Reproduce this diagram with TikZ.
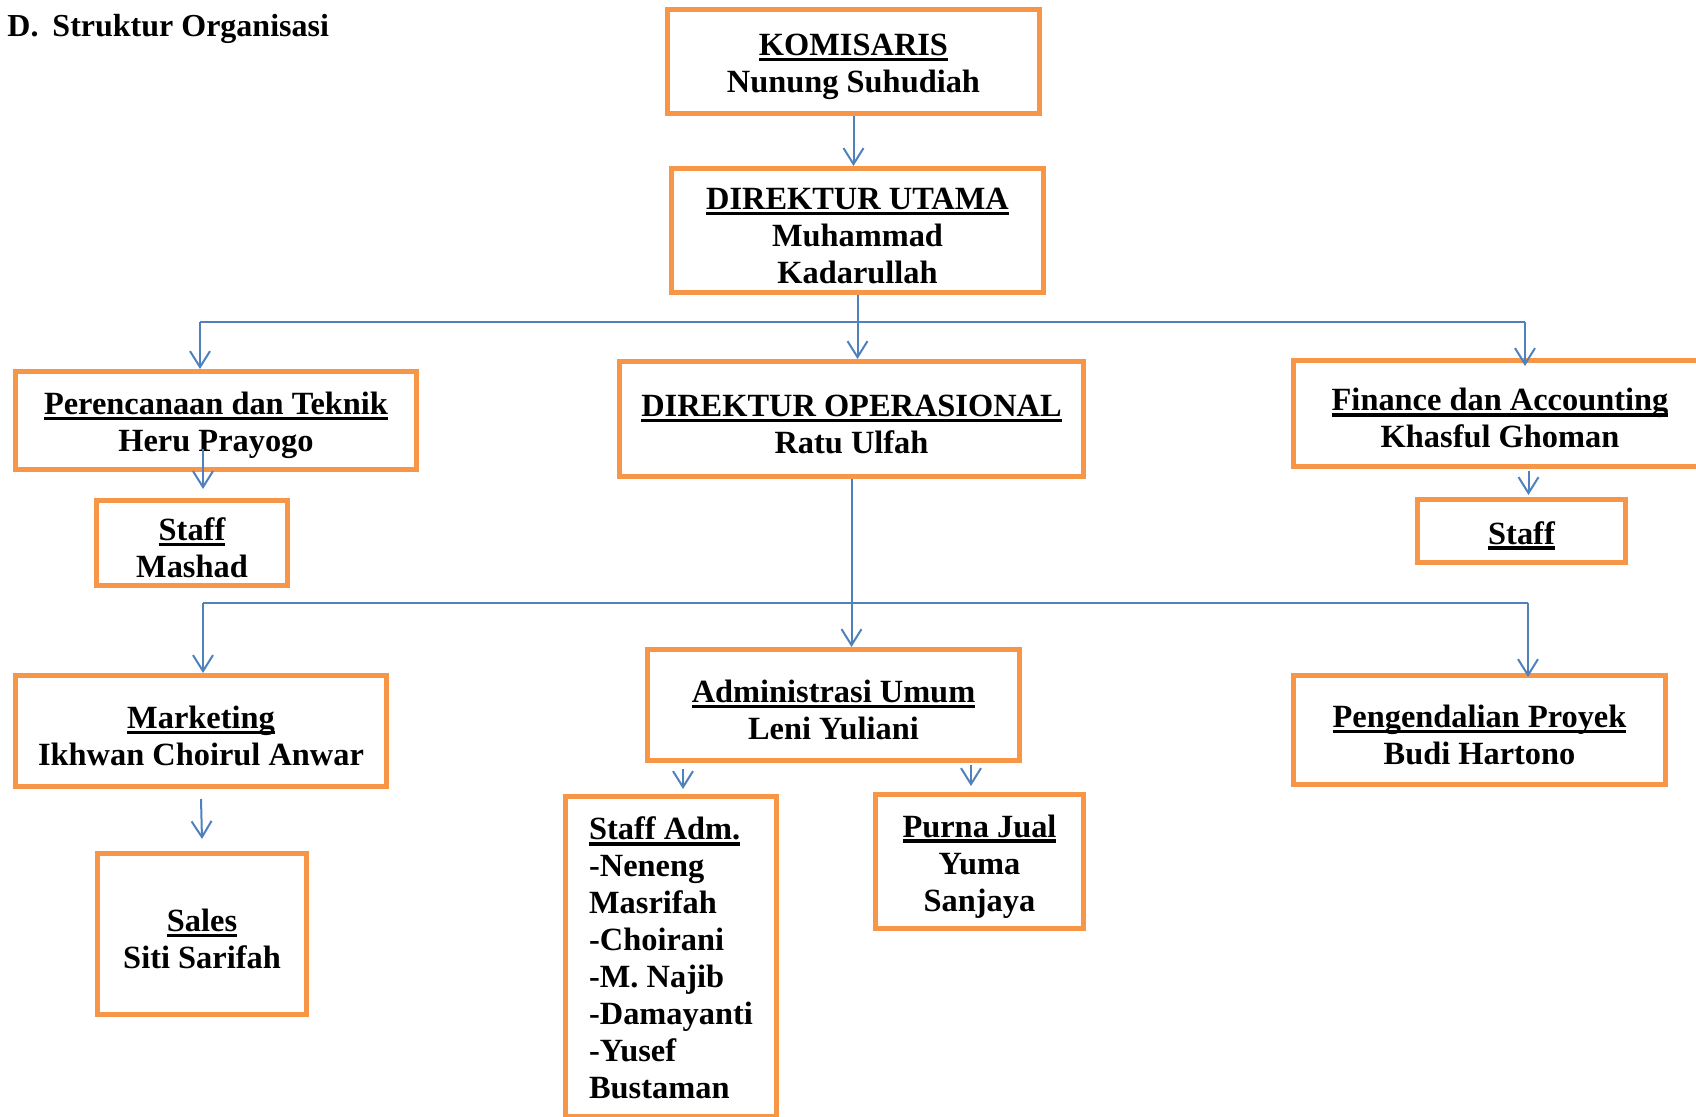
\documentclass[tikz,border=0pt]{standalone}
\usepackage{fontspec}
\setmainfont{Liberation Serif}
\usepackage{xcolor}
\usetikzlibrary{arrows.meta,calc,positioning}
\definecolor{boxorange}{HTML}{F79646}
\definecolor{linkblue}{HTML}{4F81BD}
\newcommand{\ulhead}[2][16pt]{\leavevmode\rule{0pt}{#1}\setbox0\hbox{#2}\rlap{\rule[-2.85pt]{\wd0}{1.7pt}}\box0}
\tikzset{
	unit/.style={draw=boxorange, line width=2.5pt, fill=white, inner sep=0pt, align=center,
		font=\fontsize{16.2}{18.5}\selectfont\bfseries},
	wh/.style 2 args={minimum width=#1*0.5pt, minimum height=#2*0.5pt},
	link/.style={draw=linkblue, line width=1pt},
	arr/.style={link, -{Straight Barb[length=8pt,width=10pt]}}
}
\begin{document}
\begin{tikzpicture}[x=0.5pt,y=-0.5pt]
	\useasboundingbox (0,0) rectangle (1696,1117);
	\node[anchor=base west, inner sep=0pt, font=\fontsize{16}{19}\selectfont\bfseries] (title) at (7,37) {D.\hspace{7pt}Struktur Organisasi};
	\node[unit,wh={372}{104}] (kom) at (853.5,61.5) {\ulhead{KOMISARIS}\\Nunung Suhudiah};
	\node[unit,wh={372}{124}] (dirut) at (857.5,230.5) {\ulhead{DIREKTUR UTAMA}\\Muhammad\\Kadarullah};
	\node[unit,wh={401}{98}] (pren) at (216,420.5) {\ulhead{Perencanaan dan Teknik}\\Heru Prayogo};
	\node[unit,wh={464}{115}] (dirop) at (851.5,419) {\ulhead{DIREKTUR OPERASIONAL}\\Ratu Ulfah};
	\node[unit,wh={413}{106}] (fin) at (1500,413.5) {\ulhead{Finance dan Accounting}\\Khasful Ghoman};
	\node[unit,wh={191}{85}] (stpren) at (192,543) {\ulhead{Staff}\\Mashad};
	\node[unit,wh={208}{63}] (stfin) at (1521.5,531) {\ulhead{Staff}};
	\node[unit,wh={371}{111}] (mkt) at (201,731) {\ulhead{Marketing}\\Ikhwan Choirul Anwar};
	\node[unit,wh={209}{161}] (sales) at (202,934) {\ulhead{Sales}\\Siti Sarifah};
	\node[unit,wh={372}{111}] (adm) at (833.5,705) {\ulhead{Administrasi Umum}\\Leni Yuliani};
	\node[unit,wh={372}{109}] (proy) at (1479.5,730) {\ulhead{Pengendalian Proyek}\\Budi Hartono};
	\node[unit,wh={208}{134}] (purna) at (979.5,861.5) {\ulhead{Purna Jual}\\Yuma\\Sanjaya};
	\node[unit,wh={211}{320},align=left] (stadm) at (671,956.5)
		{\ulhead[13pt]{Staff Adm.}\\-Neneng\\Masrifah\\-Choirani\\-M. Najib\\-Damayanti\\-Yusef\\Bustaman};
	% upper level
	\draw[arr] (kom.south) -- (kom.south |- dirut.north);
	\draw[arr] (dirut.south) -- (dirut.south |- dirop.north);
	\coordinate (busL) at (200,322);
	\coordinate (busR) at (1525,322);
	\draw[link] (busL) -- (busR);
	\draw[arr] (busL) -- (busL |- pren.north);
	\draw[arr] (busR) -- ($(busR |- fin.north)+(0,8)$);
	\draw[arr] ($(pren.south -| stpren.north)+(11,-23)$) -- ($(stpren.north)+(11,-9)$);
	\draw[arr] ($(fin.south -| stfin.north)+(7,2)$) -- ($(stfin.north)+(7,-2)$);
	% lower level
	\draw[arr] (dirop.south) -- (dirop.south |- adm.north);
	\coordinate (bus2L) at (203,603);
	\coordinate (bus2R) at (1528,603);
	\draw[link] (bus2L) -- (bus2R);
	\draw[arr] (bus2L) -- (bus2L |- mkt.north);
	\draw[arr] (bus2R) -- ($(bus2R |- proy.north)+(0,4)$);
	\draw[arr] ($(mkt.south)+(0,10)$) -- ($(sales.north)+(0,-12)$);
	\draw[arr] ($(adm.south -| stadm.north)+(12,6)$) -- ($(stadm.north)+(12,-5)$);
	\draw[arr] ($(adm.south -| purna.north)+(-8.5,2)$) -- ($(purna.north)+(-8.5,-6)$);
\end{tikzpicture}
\end{document}
